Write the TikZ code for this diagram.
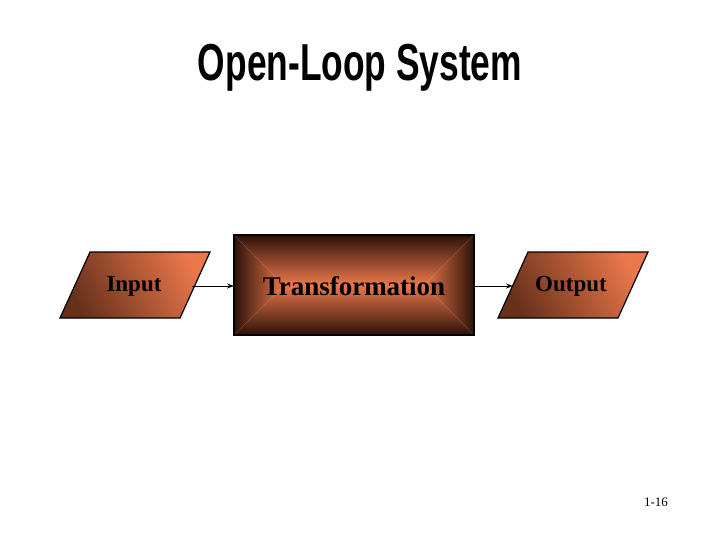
\documentclass[tikz,border=0pt]{standalone}
\usepackage{fontspec}
\setmainfont{Liberation Serif}
\newfontfamily\titlefont{Liberation Sans}
\usetikzlibrary{arrows.meta}
\definecolor{orng}{RGB}{235,120,75}
\definecolor{dbrown}{RGB}{70,30,15}
\definecolor{edge}{RGB}{45,18,8}
\begin{document}
\begin{tikzpicture}[x=1pt,y=-1pt,
  para/.style={draw=black,line width=1.2pt,left color=dbrown!80!orng,right color=orng},
  lbl/.style={font=\bfseries\fontsize{23}{26}\selectfont,text=black},
  conn/.style={-{Stealth[length=7pt,width=5pt]},line width=1pt}]
\useasboundingbox (0,0) rectangle (720,540);
\fill[white] (0,0) rectangle (720,540);
\node (title) at (360,68) {\titlefont\bfseries\fontsize{52}{56}\selectfont\scalebox{0.68}[1]{Open-Loop System}};
% input
\shade[para, shading angle=120] (90,252) -- (210,252) -- (180,318) -- (60,318) -- cycle;
\node[lbl] (in) at (134,286) {Input};
\coordinate (inR) at (192,286);
% transformation
\shade[top color=edge,bottom color=orng] (234,235) -- (474,235) -- (424,285) -- (284,285) -- cycle;
\shade[top color=orng,bottom color=edge] (234,335) -- (474,335) -- (424,285) -- (284,285) -- cycle;
\shade[left color=edge,right color=orng] (234,235) -- (284,285) -- (234,335) -- cycle;
\shade[left color=orng,right color=edge] (474,235) -- (424,285) -- (474,335) -- cycle;
\draw[line width=1.5pt] (234,235) rectangle (474,335);
\node[lbl,font=\bfseries\fontsize{27}{30}\selectfont] (tr) at (354,286) {Transformation};
\coordinate (trL) at (234,286);
\coordinate (trR) at (474,286);
% output
\shade[para, shading angle=120] (528,252) -- (648,252) -- (618,318) -- (498,318) -- cycle;
\node[lbl] (out) at (571,286) {Output};
\coordinate (outL) at (513,286);
\draw[conn] (inR) -- (trL);
\draw[conn] (trR) -- (outL);
\node[font=\fontsize{13}{15}\selectfont] (pg) at (656,502) {1-16};
\end{tikzpicture}
\end{document}
